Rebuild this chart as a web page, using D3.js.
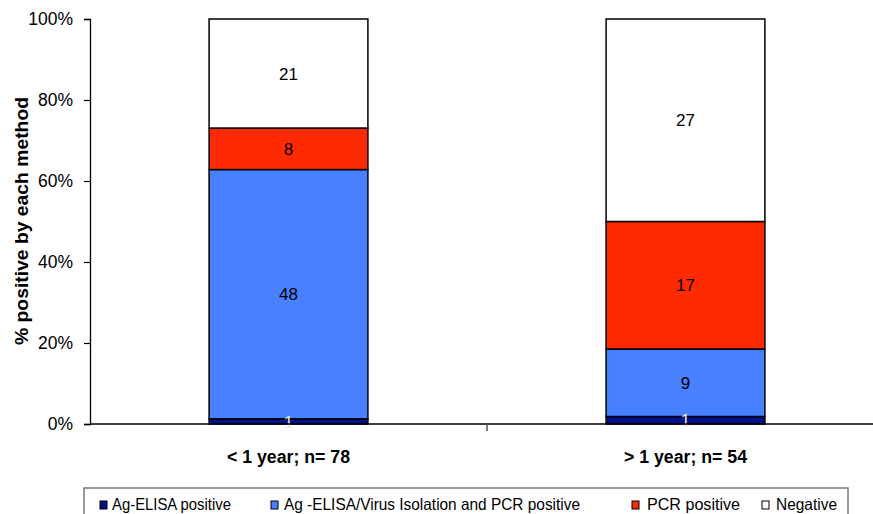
<!DOCTYPE html>
<html>
<head>
<meta charset="utf-8">
<script src="https://cdn.jsdelivr.net/npm/d3@7"></script>
<style>
  html, body { margin: 0; padding: 0; background: #fff; }
  svg { display: block; font-family: Arial, "Liberation Sans", sans-serif; }
</style>
</head>
<body>
<svg id="chart" width="873" height="514"></svg>
<script>
// Age groups and counts of samples by detection result
const categories = ["< 1 year; n= 78", "> 1 year; n= 54"];
const seriesNames = ["Ag-ELISA positive", "Ag -ELISA/Virus Isolation and PCR positive", "PCR positive", "Negative"];
const agElisa = [1, 1];
const agElisaVirusPcr = [48, 9];
const pcrPositive = [8, 17];
const negative = [21, 27];
const yTicks = [0, 0.2, 0.4, 0.6, 0.8, 1.0];

const colors = ["#00118c", "#4781ff", "#ff2a00", "#ffffff"];
const labelColors = ["#e8e8e8", "#000", "#000", "#000"];

const svg = d3.select("#chart");
const plot = { left: 90, right: 884, top: 19, bottom: 424 };

// rows of counts, one per age group
const rows = categories.map((c, i) => ({
  category: c,
  values: [agElisa[i], agElisaVirusPcr[i], pcrPositive[i], negative[i]]
}));

const x = d3.scaleBand()
  .domain(categories)
  .range([plot.left, plot.right])
  .paddingInner(0.6)
  .paddingOuter(0.3);

const y = d3.scaleLinear().domain([0, 1]).range([plot.bottom, plot.top]);

// Y axis
const yAxis = svg.append("g")
  .attr("transform", `translate(${plot.left},0)`)
  .call(d3.axisLeft(y).tickValues(yTicks).tickFormat(d3.format(".0%")).tickSize(6).tickPadding(11));
yAxis.select(".domain").attr("stroke", "#000").attr("stroke-width", 1.3);
yAxis.selectAll(".tick line").attr("stroke", "#000").attr("stroke-width", 1.2);
yAxis.selectAll(".tick text").attr("font-size", 17.5).attr("fill", "#000")
  .attr("font-family", "Arial, 'Liberation Sans', sans-serif");

// Stacked segments, normalised to each group's total
const stack = d3.stack()
  .keys(d3.range(seriesNames.length))
  .value((d, k) => d.values[k])
  .offset(d3.stackOffsetExpand);
const layers = stack(rows);

const segG = svg.append("g");
layers.forEach((layer, k) => {
  layer.forEach((seg, i) => {
    const cat = rows[i].category;
    segG.append("rect")
      .attr("x", x(cat))
      .attr("y", y(seg[1]))
      .attr("width", x.bandwidth())
      .attr("height", y(seg[0]) - y(seg[1]))
      .attr("fill", colors[k])
      .attr("stroke", "#000")
      .attr("stroke-width", 1.5);
  });
});

// Count labels in the middle of each segment
layers.forEach((layer, k) => {
  layer.forEach((seg, i) => {
    const cat = rows[i].category;
    segG.append("text")
      .attr("x", x(cat) + x.bandwidth() / 2)
      .attr("y", y((seg[0] + seg[1]) / 2))
      .attr("dy", "0.36em")
      .attr("text-anchor", "middle")
      .attr("font-size", 17)
      .attr("fill", labelColors[k])
      .text(rows[i].values[k]);
  });
});

// X axis line with ticks between groups
const xAxis = svg.append("g");
xAxis.append("line")
  .attr("x1", plot.left).attr("x2", plot.right)
  .attr("y1", plot.bottom).attr("y2", plot.bottom)
  .attr("stroke", "#000").attr("stroke-width", 1.5);
const boundaries = categories.slice(1).map(c => x(c) - (x.step() - x.bandwidth()) / 2);
boundaries.forEach(b => {
  xAxis.append("line")
    .attr("x1", b).attr("x2", b)
    .attr("y1", plot.bottom).attr("y2", plot.bottom + 7)
    .attr("stroke", "#555").attr("stroke-width", 1.5);
});
categories.forEach(c => {
  xAxis.append("text")
    .attr("x", x(c) + x.bandwidth() / 2)
    .attr("y", 463)
    .attr("text-anchor", "middle")
    .attr("font-size", 17.5)
    .attr("font-weight", "bold")
    .attr("textLength", 123)
    .attr("lengthAdjust", "spacingAndGlyphs")
    .attr("fill", "#000")
    .text(c);
});

// Y axis title
svg.append("text")
  .attr("transform", "translate(28,221) rotate(-90)")
  .attr("text-anchor", "middle")
  .attr("font-size", 17.5)
  .attr("font-weight", "bold")
  .attr("textLength", 248)
  .attr("lengthAdjust", "spacingAndGlyphs")
  .attr("fill", "#000")
  .text("% positive by each method");

// Legend
const legend = svg.append("g");
legend.append("rect")
  .attr("x", 84).attr("y", 488)
  .attr("width", 764).attr("height", 40)
  .attr("fill", "#fff")
  .attr("stroke", "#7a7a7a").attr("stroke-width", 1.5);
const legendItems = [
  { sw: 100, tx: 112, len: 119 },
  { sw: 271, tx: 284, len: 296 },
  { sw: 632, tx: 647, len: 93 },
  { sw: 762, tx: 776, len: 61 }
];
seriesNames.forEach((name, k) => {
  const it = legendItems[k];
  legend.append("rect")
    .attr("x", it.sw).attr("y", 501)
    .attr("width", 7).attr("height", 8)
    .attr("fill", colors[k])
    .attr("stroke", "#000").attr("stroke-width", 1);
  legend.append("text")
    .attr("x", it.tx).attr("y", 510)
    .attr("font-size", 16.5)
    .attr("textLength", it.len)
    .attr("lengthAdjust", "spacingAndGlyphs")
    .attr("fill", "#000")
    .text(name);
});
</script>
</body>
</html>
